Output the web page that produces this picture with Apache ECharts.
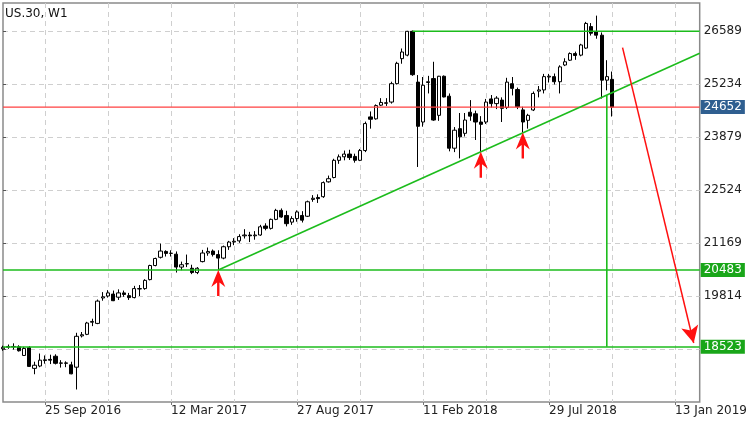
<!DOCTYPE html>
<html><head><meta charset="utf-8">
<script src="https://cdn.jsdelivr.net/npm/echarts@6/dist/echarts.min.js"></script>
<style>html,body{margin:0;padding:0;background:#fff}#c{width:750px;height:423px}</style>
</head><body><div id="c"></div>
<script>
// Weekly candles, first week starting 31 Jul 2016
const startDate = [2016, 6, 31];
const openV = [18470,18510,18530,18520,18300,18500,17970,18030,18170,18200,18280,18100,18110,18060,18000,18800,18840,19150,19120,19770,
19820,19870,19790,19900,19830,19780,20000,20010,20240,20600,20810,20960,20910,20890,20560,20640,20530,20420,20700,20920,
20970,20880,20790,21080,21200,21230,21360,21380,21360,21380,21610,21550,21780,22010,21880,21710,21800,21880,21860,22290,
22340,22360,22740,22850,23290,23380,23450,23390,23290,23540,24400,24350,24700,24760,24780,25250,25890,25980,26589,25290,
24270,25280,25380,24440,25440,24930,23600,24100,23980,24520,24480,24270,24270,24860,24740,24830,24640,25250,25100,24580,
24313,24577,25060,25090,25420,25430,25300,25727,25850,26020,25980,26160,26710,26580,26490,25340,25360];
const highV = [18550,18580,18610,18560,18520,18540,18140,18350,18300,18320,18330,18180,18150,18140,18880,18900,19160,19240,19730,19920,
19970,19960,19990,19960,19900,20080,20100,20250,20620,20800,21160,20990,20990,20960,20700,20880,20620,20560,21000,21060,
21010,20990,21110,21230,21300,21400,21530,21460,21480,21640,21680,21800,22050,22060,22000,21860,22010,21990,22260,22400,
22420,22750,22900,23330,23440,23540,23560,23460,23580,24280,24540,24720,24880,24880,25300,25810,26150,26600,26610,25470,
25420,25450,25810,25450,25460,25000,24140,24500,24500,24830,24560,24420,24860,24960,24930,24900,25400,25420,25150,24660,
24480,25050,25190,25500,25500,25510,25720,25900,26050,26070,26270,26830,26800,26990,26560,25850,25560];
const lowV = [18420,18470,18450,18400,18290,18010,17820,18000,18090,18080,18070,17990,18000,17820,17430,18760,18820,19050,19100,19700,
19780,19690,19720,19800,19720,19760,19820,19980,20220,20580,20780,20830,20830,20420,20480,20560,20380,20380,20680,20850,
20830,20483,20760,21000,21120,21180,21290,21200,21260,21360,21500,21520,21760,21820,21600,21640,21720,21700,21840,22230,
22200,22330,22720,22830,23200,23290,23300,23230,23270,23500,24100,24330,24680,24680,24740,25230,25760,25950,25450,23120,
24150,25000,24300,24300,24900,23520,23500,23340,23900,24300,23810,23510,24220,24640,24600,24270,24600,24950,24600,24000,
24100,24550,24900,25000,25280,25230,25000,25700,25830,25860,25950,26140,26480,26400,24870,25080,24410];
const closeV = [18510,18530,18520,18420,18480,18020,18050,18180,18190,18180,18100,18110,18100,17830,18790,18830,19130,19170,19690,19800,
19900,19700,19900,19860,19780,20010,20010,20220,20600,20780,20970,20910,20915,20560,20620,20650,20420,20530,20920,20960,
20880,20790,21080,21200,21220,21340,21380,21360,21380,21590,21550,21780,22010,21840,21670,21800,21970,21760,22230,22320,
22310,22720,22820,23290,23380,23450,23360,23290,23540,24230,24340,24690,24770,24750,25250,25770,26060,26589,25480,24160,
25210,25300,24320,25440,24910,23600,24060,23890,24320,24420,24270,24210,24780,24740,24880,24620,25290,25130,24660,24270,
24441,25000,25090,25430,25440,25300,25680,25810,26020,25970,26240,26790,26540,26490,25340,25430,24652];

// Axis ticks and labels
const xLabels = ['25 Sep 2016','12 Mar 2017','27 Aug 2017','11 Feb 2018','29 Jul 2018','13 Jan 2019'];
const yLabels = [26589, 25234, 23879, 22524, 21169, 19814];
const yGrid = [26589, 25234, 23879, 22524, 21169, 19814, 18459];
const xMin = 0, xMax = 132.69;
const yMin = 17110, yMax = 27313;

// Annotations (data coordinates: [week index, price])
const redLevel = 24652;
const greenLevels = [20483, 18523];
const topLine = [[78, 26589], [132.69, 26589]];
const trendLine = [[41, 20483], [132.69, 26026]];
const vertLine = [[115, 24956], [115, 18523]];
const bigArrow = [[118, 26170], [131.55, 18619]];
const upArrows = [[41, 20483], [91, 23510], [99, 24000]];

const MON = ['Jan','Feb','Mar','Apr','May','Jun','Jul','Aug','Sep','Oct','Nov','Dec'];
function weekLabel(i) {
  const d = new Date(Date.UTC(startDate[0], startDate[1], startDate[2] + 7 * i));
  return d.getUTCDate() + ' ' + MON[d.getUTCMonth()] + ' ' + d.getUTCFullYear();
}
const weekLabels = [];
for (let i = 0; i <= Math.floor(xMax); i++) weekLabels.push(weekLabel(i));
const labelIdx = xLabels.map(s => weekLabels.indexOf(s));
const gridIdx = [];
for (let k = labelIdx[0]; k <= xMax; k += (labelIdx[1] - labelIdx[0]) / 2) gridIdx.push(k);

const candles = openV.map((o, i) => [i, o, closeV[i], lowV[i], highV[i]]);
const redLine = [[xMin, redLevel], [xMax, redLevel]];

const FONT = 'DejaVu Sans';
const GREEN = '#1cbc1c';
const GREEN_BOX = '#19a619';
const RED = '#ff1010';
const LEVEL_RED = '#ff4040';

function levelLabel(v, boxColor) {
  return {
    show: true, position: 'end', distance: 1, formatter: () => String(v),
    color: '#fff', backgroundColor: boxColor, padding: [1, 3, 0, 3],
    fontFamily: FONT, fontSize: 12, lineHeight: 13
  };
}

const chart = echarts.init(document.getElementById('c'), null, { renderer: 'canvas' });
chart.setOption({
  animation: false,
  backgroundColor: '#fff',
  title: {
    text: 'US.30, W1', left: 5, top: 8, padding: 0,
    textStyle: { fontFamily: FONT, fontSize: 12, fontWeight: 'normal', color: '#111' }
  },
  grid: { left: 3, right: 46, top: 3, bottom: 21, show: true, borderColor: '#8a8a8a', borderWidth: 1.5 },
  xAxis: [{
    type: 'value', min: xMin, max: xMax, position: 'bottom',
    axisLine: { show: false },
    axisTick: { show: true, customValues: labelIdx, length: 3, lineStyle: { color: '#777' } },
    axisLabel: {
      customValues: labelIdx, formatter: v => weekLabels[Math.round(v)],
      align: 'left', margin: 3, fontFamily: FONT, fontSize: 12, color: '#222'
    },
    splitLine: { show: false }
  }, {
    type: 'value', min: xMin, max: xMax, position: 'top',
    axisLine: { show: false },
    axisTick: { show: false, customValues: gridIdx },
    axisLabel: { show: false },
    splitLine: { show: true, lineStyle: { color: '#cfcfcf', type: [5, 4], width: 1 } }
  }],
  yAxis: {
    type: 'value', position: 'right', min: yMin, max: yMax,
    axisLine: { show: false },
    axisTick: { show: true, customValues: yGrid, length: 3, lineStyle: { color: '#555' } },
    axisLabel: {
      customValues: yLabels, formatter: v => String(v),
      margin: 4, fontFamily: FONT, fontSize: 12, color: '#222'
    },
    splitLine: { show: true, lineStyle: { color: '#cfcfcf', type: [5, 4], width: 1 } }
  },
  series: [{
    type: 'candlestick',
    data: candles,
    encode: { x: 0, y: [1, 2, 3, 4] },
    barWidth: 3.6,
    itemStyle: { color: '#ffffff', color0: '#000000', borderColor: '#000', borderColor0: '#000', borderWidth: 1 },
    z: 3
  }, {
    type: 'line', data: redLine, symbol: 'none', silent: true,
    color: LEVEL_RED,
    lineStyle: { color: LEVEL_RED, width: 1.2, opacity: 1 }, z: 4,
    markLine: {
      silent: true, symbol: 'none', animation: false,
      lineStyle: { color: 'rgba(0,0,0,0)', width: 0 },
      data: [{ yAxis: redLevel, label: levelLabel(redLevel, '#2f5f90') }]
    }
  }, {
    type: 'line', data: topLine, symbol: 'none', silent: true,
    lineStyle: { color: GREEN, width: 1.6 }, itemStyle: { color: GREEN }, z: 4,
    markLine: {
      silent: true, symbol: 'none', animation: false,
      lineStyle: { color: GREEN, width: 1.5, type: 'solid' },
      data: [
        { yAxis: greenLevels[0], label: levelLabel(greenLevels[0], GREEN_BOX) },
        { yAxis: greenLevels[1], label: levelLabel(greenLevels[1], GREEN_BOX) }
      ]
    }
  }, {
    type: 'line', data: trendLine, symbol: 'none', silent: true,
    lineStyle: { color: GREEN, width: 1.6 }, z: 4
  }, {
    type: 'line', data: vertLine, symbol: 'none', silent: true,
    lineStyle: { color: GREEN, width: 1.6 }, z: 4,
    markLine: {
      silent: true, animation: false,
      symbol: ['none', 'arrow'], symbolSize: [13, 17],
      lineStyle: { color: RED, width: 1.5, type: 'solid' },
      itemStyle: { color: RED },
      label: { show: false },
      data: [[{ coord: bigArrow[0] }, { coord: bigArrow[1] }]]
    }
  }, {
    type: 'scatter', data: upArrows, silent: true,
    symbol: 'path://M7,0 L14,17 L8.2,12.5 L8.2,26 L5.8,26 L5.8,12.5 L0,17 Z',
    symbolSize: [14, 26], symbolOffset: [0, 13],
    itemStyle: { color: RED, opacity: 1 }, z: 5
  }]
});
</script>
</body></html>
